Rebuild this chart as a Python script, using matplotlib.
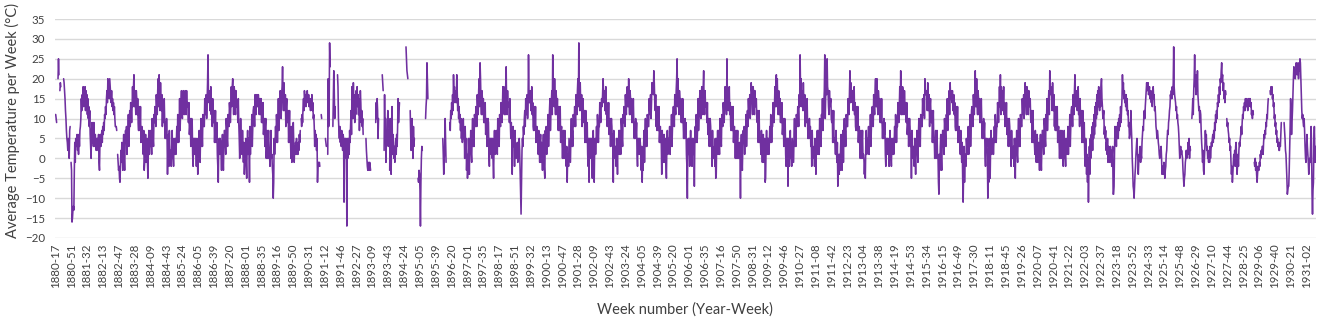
import numpy as np
import matplotlib
matplotlib.use("Agg")
import matplotlib.pyplot as plt

NA = None

# Weekly average temperatures (deg C), one row per (seasonal) year
temps_1880s = [
    # 1880 (from week 17)
    11, 11, 10, 9, NA, NA, 20, 25, 21, NA, 17, 19, 18, NA, NA, NA, NA, NA, 20, 19, 17, 15, 12, 10, 7, 5, 4, 2, 5, 3, 0, 7, 8, NA, -1, -3, -16,
    # 1881
    -15, -13, -12, -13, -3, 4, -1, 5, 3, 4, 6, 2, 5, 1, 6, 3, 7, 8, 10, 15, 12, 16, 14, 18, 13, 17, 15,
    18, 12, 17, 14, 16, 11, 15, 10, 13, 8, 12, 6, 3, 0, 7, 9, 4, 8, 3, 9, 5, 3, 6, 4, 2, 5,
    # 1882
    3, 5, 2, 6, -1, -3, 4, 6, 3, 5, 7, 4, 8, 6, 9, 7, 11, 10, 13, 11, 15, 17, 14, 20, 16, 19, 15,
    20, 18, 16, 14, 17, 13, 15, 12, 14, 11, 13, 10, 8, 8, 8, 7, NA, 1, -1, -3, -2, -5, -6, -2, 2, -1,
    # 1883
    4, 1, -3, 3, 6, 0, -3, 3, 7, 4, 8, 1, 7, 5, 11, 3, 8, 12, 8, 14, 12, 9, 13, 18, 13, 18, 21,
    13, 17, 14, 11, 17, 15, 11, 15, 9, 7, 13, 11, 7, 13, 4, 7, 8, 4, 4, 1, 7, -3, -1, 4, 6, -1,
    # 1884
    0, 5, -1, -5, 3, 7, 1, 5, 3, 7, 4, 1, 10, 8, 5, 3, 11, 9, 13, 12, 8, 16, 13, 11, 17, 20, 13,
    21, 16, 12, 19, 14, 12, 16, 8, 13, 14, 9, 15, 9, 5, 9, 5, 10, 6, -4, 3, 6, -2, 7, 2, 0, 2,
    # 1885
    -2, 3, 7, 0, 1, -2, 5, 3, 1, 5, 1, 4, 8, 4, 11, 8, 4, 8, 15, 7, 11, 14, 17, 11, 10, 16, 17,
    16, 11, 16, 17, 13, 11, 17, 13, 14, 13, 9, 14, 6, 8, 10, 3, 8, 10, 9, 1, -2, 5, 3, 5, 1, 5,
    # 1886
    3, -2, 5, 2, -4, 5, 2, 7, 1, -1, 6, 10, 3, 7, 3, 11, 10, 8, 8, 15, 12, 11, 16, 10, 14, 19, 26,
    15, 14, 17, 12, 14, 18, 11, 14, 8, 15, 10, 9, 12, 4, 8, 12, 4, 5, 9, 1, -2, -6, 3, 5, 1, 5,
    # 1887
    4, 1, -3, 3, 6, 0, -3, 3, 7, 7, 4, 1, 10, 8, 5, 3, 11, 9, 8, 14, 12, 9, 13, 18, 13, 18, 20,
    16, 11, 18, 17, 13, 11, 17, 13, 14, 14, 9, 15, 9, 5, 0, 5, 10, 6, 4, 1, 7, 3, -1, 4, -4, -1,
    # 1888
    0, 5, -1, -5, 3, 7, 1, 5, 3, -6, 8, 1, 7, 5, 11, 3, 8, 12, 13, 12, 8, 16, 13, 11, 15, 16, 13,
    13, 16, 14, 11, 15, 15, 11, 15, 9, 13, 9, 14, 6, 8, 10, 3, 8, 10, 0, 4, 7, 0, 4, 7, 0, 1,
    # 1889
    -2, 3, 7, 0, 1, -2, -4, -10, -6, 5, 1, 4, 8, 4, 11, 8, 4, 8, 15, 7, 11, 14, 17, 11, 10, 16, 18,
    23, 16, 12, 19, 14, 12, 16, 8, 13, 15, 10, 9, 12, 4, 8, 12, 4, 5, 0, 8, -1, 3, 2, 9, 4, -1,
]

temps_1890s = [
    # 1890
    3, 1, 4, 2, 5, 1, 3, 1, 4, 2, 6, 4, 7, NA, 10, 8, 11, 9, 13, 15, 12, 17, 15, 16, 13, 16, 14,
    17, 15, 14, 16, 13, 15, 14, 12, 15, 13, 16, 12, 14, 10, 11, 8, 3, 7, 4, 6, 2, 5, -6, -2, -1, -2,
    # 1891
    -1, -2, NA, NA, 11, 10, NA, NA, NA, NA, NA, NA, NA, 5, 4, 3, NA, NA, 1, 20, 8, 12, 29, 23, NA, NA, NA,
    NA, NA, 8, 15, 22, 17, 10, 13, NA, NA, NA, NA, 21, 18, 10, 7, 5, 8, 4, 6, 3, 7, 5, 2, 6, 5,
    # 1892
    -11, 2, 5, 0, 5, 4, -17, 5, 0, 2, 5, 1, 7, 4, 8, 12, 6, 18, 15, 10, 19, 13, 15, 9, 16, 11, 17,
    15, 18, 13, 16, 11, 15, 7, 12, 17, 14, 9, 12, 8, 10, 6, NA, NA, NA, NA, NA, 5, 2, 0, -2, -3, -1,
    # 1893
    -2, -3, -1, -2, -3, NA, NA, NA, NA, NA, NA, NA, NA, NA, NA, 9, 14, 10, 15, 12, 5, 10, NA, NA, NA, NA, NA,
    NA, NA, 21, 19, 17, NA, 2, 16, 5, 10, -1, 6, 4, 8, 12, 3, 7, NA, -3, 10, 2, -4, 5, 13, 1, 6,
    # 1894
    4, 0, 3, -1, 2, 5, 1, 6, 3, 8, 15, 9, 12, 14, NA, NA, NA, NA, NA, NA, NA, NA, NA, NA, NA, NA, NA,
    28, 25, 22, 21, 20, NA, NA, NA, NA, 12, 6, 2, 7, 10, 4, 0, 8, 3, 5, NA, NA, NA, NA, NA, NA, NA,
    # 1895
    -5, -6, -3, -4, -8, -17, -6, 0, 3, 2, NA, NA, NA, NA, NA, NA, 10, 13, 15, 24, 19, 15, NA, NA, NA, NA, NA,
    NA, NA, NA, NA, NA, NA, NA, NA, NA, NA, NA, NA, NA, NA, NA, NA, NA, NA, NA, NA, NA, NA, NA, NA, NA, NA,
    # 1896
    5, 1, -4, 0, 3, 10, 4, -1, NA, NA, NA, NA, NA, NA, NA, 9, 7, 12, 10, 14, 11, 16, 12, 21, 16, 18, 14,
    17, 15, 14, 21, 16, 12, 15, 10, 13, 9, 11, 7, 10, 5, 8, 4, 6, 10, 5, 7, 0, 8, 3, 5, -3, 1,
    # 1897
    -5, -2, 5, 2, -4, 5, 2, 7, 1, -1, 6, 10, 3, 7, 3, 11, 10, 8, 13, 12, 8, 16, 13, 11, 17, 20, 13,
    24, 20, 14, 11, 17, 15, 11, 15, 9, 13, 9, 14, 6, 8, 10, 3, 8, 10, 9, 1, -2, 5, 3, 5, 1, 5,
    # 1898
    0, 5, -1, -5, 3, 7, 1, 5, 3, 7, 4, 1, 10, 8, 5, 3, 11, 9, 8, 14, 12, 9, 13, 18, 13, 18, 11,
    16, 11, 18, 23, 13, 11, 17, 13, 14, 14, 9, 15, 9, 5, 9, 5, -4, 6, 8, 3, 6, -2, 7, 2, 0, 2,
    # 1899
    1, 4, -1, 3, 0, 5, 2, -3, -9, -14, -6, 2, 5, 3, 8, 6, 10, 12, 8, 15, 12, 11, 16, 10, 14, 26, 17,
    14, 14, 17, 12, 14, 18, 11, 14, 8, 7, 13, 11, 7, 13, 4, 7, 8, 4, 4, 1, 7, 3, -1, 4, 6, -1,
]

temps_1900s = [
    # 1900
    4, 1, -3, 3, 6, 0, -3, -5, 7, 4, 8, 1, 7, 5, 11, 3, 8, 12, 15, 7, 11, 14, 17, 11, 26, 16, 18,
    13, 20, 14, 11, 17, 15, 11, 15, 9, 7, 13, 11, 7, 13, 4, 7, 8, 4, 0, 4, 7, 0, 4, 7, 0, 1,
    # 1901
    -2, 3, -6, 0, 1, -2, 5, 3, 1, -1, 6, 10, 3, 7, 3, 11, 10, 8, 13, 12, 8, 16, 13, 11, 17, 20, 13,
    29, 16, 12, 19, 14, 12, 16, 8, 13, 15, 10, 9, 12, 4, 8, 12, 4, 5, 9, 1, -2, 5, -6, 5, 1, 5,
    # 1902
    0, 5, -1, -5, 3, 7, 1, -6, 3, 5, 1, 4, 8, 4, 11, 8, 4, 8, 8, 14, 12, 9, 13, 15, 13, 16, 20,
    17, 14, 17, 12, 14, 18, 11, 14, 8, 13, 9, 14, 6, 8, 10, 3, 8, 10, 8, 3, 6, -6, 7, 2, 0, 2,
    # 1903
    3, -2, 5, 2, -4, 5, 2, 7, 1, 7, 4, 1, 10, 8, 5, 3, 11, 9, 13, 12, 8, 16, 13, 11, 17, 18, 13,
    13, 20, 14, 11, 17, 15, 11, 15, 9, 14, 9, 15, 9, 5, 9, 5, 10, 6, 9, 1, -2, 5, 3, 5, 1, 5,
    # 1904
    4, 1, -3, 3, -6, 0, -3, 3, 7, -1, 6, 10, 3, 7, 3, 11, 10, 8, 8, 15, 12, 11, 16, 10, 14, 19, 17,
    17, 16, 22, 19, 14, 12, 16, 8, 13, 7, 13, 11, 7, 13, 4, 7, 8, 4, 4, -4, 7, 3, -1, 4, 6, -1,
    # 1905
    0, 5, -1, -5, 3, 7, 1, 5, 3, 4, 8, 1, 7, 5, 11, 3, 8, 12, 13, 12, 8, 16, 13, 11, 17, 20, 25,
    13, 20, 14, 11, 17, 15, 11, 15, 9, 14, 9, 15, 9, 5, 9, 5, 10, 6, 9, 1, -2, -10, 3, 5, 1, 5,
    # 1906
    -2, 3, 7, 0, 1, -2, 5, 3, 1, 5, -7, 4, 8, 4, 11, 8, 4, 8, 15, 7, 11, 14, 17, 11, 10, 16, 18,
    16, 11, 18, 22, 13, 11, 17, 13, 14, 13, 9, 14, 6, 8, 10, 3, 8, 10, 8, 3, 6, -2, 7, 2, 0, 2,
    # 1907
    3, -2, 5, -5, -4, 5, 2, 7, 1, 7, 4, 1, 10, 8, 5, 3, 11, 9, 8, 14, 12, 9, 13, 18, 13, 18, 11,
    25, 14, 17, 12, 14, 18, 11, 14, 8, 7, 13, 11, 7, 13, 4, 7, 8, 4, 0, 4, 7, 0, 4, 7, 0, 1, 0,
    # 1908
    4, 1, -10, 3, 6, 0, -3, 3, 7, 4, 8, 1, 7, 5, 11, 3, 8, 12, 8, 15, 12, 11, 16, 10, 14, 19, 17,
    16, 11, 18, 17, 13, 11, 17, 13, 14, 15, 10, 9, 12, 4, 8, 12, 4, 5, 4, 1, 7, 3, -1, 4, 6, -1,
    # 1909
    0, 5, -6, -5, 3, 7, 1, 5, 3, 5, 1, 4, 8, 4, 11, 8, 4, 8, 8, 14, 12, 9, 13, 18, 13, 18, 21,
    13, 20, 14, 11, 17, 15, 11, 15, 9, 13, 9, 14, 6, 8, 10, 3, 8, 10, 9, 1, -2, 5, 3, 5, -7, 5, 2,
]

temps_1910s = [
    # 1910
    -2, 3, 7, 0, 1, -2, 5, 3, 1, -1, 6, 10, 3, 7, 3, 11, 10, 8, 13, 12, 8, 16, 13, 26, 17, 20, 13,
    17, 16, 12, 19, 14, 12, 16, 8, 13, 14, 9, 15, 9, 5, 9, 5, 10, 6, 8, 3, 6, -2, 7, 2, 0, 2,
    # 1911
    3, -2, 5, 2, -4, 5, 2, 7, 1, 7, 4, 1, 10, 8, 5, 3, 11, 9, 15, 7, 11, 14, 17, 26, 10, 16, 18,
    16, 25, 18, 17, 13, 11, 17, 13, 14, 15, 10, 9, 12, 4, 8, 12, 4, 5, 4, 1, 7, 3, -1, 4, -7, -1, 1,
    # 1912
    -4, 1, -3, 3, 6, 0, -3, 3, 7, -1, 6, 10, 3, 7, 3, 11, 10, 8, 8, 15, 12, 11, 16, 22, 14, 19, 17,
    17, 14, 17, 12, 14, 18, 11, 14, 8, 7, 13, 11, 7, 13, 4, 7, 8, 4, 0, 4, 7, 0, 4, 7, 0, 1,
    # 1913
    0, -4, -1, -5, 3, 7, 1, 5, 3, 4, 8, 1, 7, 5, 11, 3, 8, 12, 13, 12, 8, 16, 13, 11, 17, 20, 13,
    13, 20, 14, 11, 17, 15, 11, 15, 9, 14, 9, 15, 9, 5, 9, 5, 10, 6, 9, 1, -2, 5, 3, 5, 1, 5, 3,
    # 1914
    -2, 3, 7, 0, 1, -2, 5, 3, 1, 5, 1, 4, 8, 4, 11, 8, 4, 8, 8, 14, 12, 9, 13, 18, 13, 22, 11,
    16, 11, 18, 17, 13, 11, 17, 13, 14, 13, 9, 14, 6, 8, 10, 3, 8, 10, 8, 3, 6, -5, 7, 2, 0, 2,
    # 1915
    3, -2, 5, 2, -4, 5, 2, 7, 1, -1, 6, 10, 3, 7, 3, 11, 10, 8, 8, 15, 12, 11, 16, 10, 20, 16, 17,
    17, 16, 12, 19, 14, 12, 16, 8, 13, 15, 10, 9, 12, 4, 8, 12, 4, 5, 0, 4, 7, 0, 4, 7, 0, 1, -6,
    # 1916
    -9, 1, -3, 3, 6, 0, -3, 3, 7, 7, 4, 1, 10, 8, 5, 3, 11, 9, 15, 7, 11, 14, 17, 11, 19, 16, 17,
    15, 14, 17, 12, 14, 16, 11, 14, 8, 7, 13, 11, 7, 13, 4, 7, 8, 4, 4, 1, 7, 3, -1, 4, -5, -11,
    # 1917
    -4, 3, -6, 0, 1, -2, 5, 3, 1, 4, 8, 1, 7, 5, 11, 3, 8, 12, 13, 12, 8, 16, 13, 11, 17, 22, 13,
    13, 20, 14, 11, 17, 15, 11, 15, 9, 14, 9, 15, 9, 5, 9, 5, 10, 6, 9, 1, -2, 5, 3, 5, 1, -10, -3,
    # 1918
    -6, 5, -1, -5, 3, 7, 1, 5, 3, 5, 1, 4, 8, 4, 11, 8, 4, 8, 8, 14, 12, 9, 13, 18, 13, 21, 11,
    18, 14, 17, 12, 14, 18, 11, 14, 8, 13, 9, 14, 6, 8, 10, 3, 8, 10, 8, 3, 6, -2, 7, 2, 0, 2,
    # 1919
    3, -2, 5, 2, -5, 5, 2, 7, 1, -1, 6, 10, 3, 7, 3, 11, 10, 8, 8, 15, 12, 11, 16, 10, 14, 19, 17,
    16, 11, 18, 17, 13, 11, 17, 13, 14, 15, 10, 9, 12, 4, 8, 12, 4, 5, 4, 1, 7, 3, -1, 4, 6, -1, 2,
]

temps_1920s = [
    # 1920
    4, 1, -3, 3, 6, 0, -3, 3, 7, 7, 4, 1, 10, 8, 5, 3, 11, 9, 15, 7, 11, 14, 17, 11, 22, 16, 18,
    17, 16, 12, 19, 14, 12, 16, 8, 13, 7, 13, 11, 7, 13, 4, 7, 8, 4, 0, 4, 7, 0, 4, 7, 0, 1,
    # 1921
    -2, 3, 7, 0, 1, -2, 5, 3, 1, 4, 8, 1, 7, 5, 11, 3, 8, 12, 13, 12, 8, 16, 13, 11, 17, 21, 13,
    17, 14, 17, 12, 14, 18, 11, 14, 8, 15, 10, 9, 12, 4, 8, 12, 4, 5, 9, 1, -2, 5, 3, -4, 1, -6, 0,
    # 1922
    -11, -3, 3, -4, 5, 0, 6, 2, 8, 2, 9, 5, 11, 6, 13, 8, 14, 10, 16, 11, 17, 13, 18, 14, 12, 17, 13,
    18, 20, 15, 13, 10, 11, 12, 6, 8, 5, 7, 2, 4, 1, 5, -1, 3, 0, 2, -1, 3, 0, 2, -2, 1, 3, -9,
    # 1923
    -9, -7, 2, 8, 4, 7, 3, 8, 5, 9, 5, 10, 7, 11, 8, 13, 9, 12, 15, 21, 17, 19, 15, 17, 14, 16, 13,
    16, 12, 15, 11, 12, 8, 9, 5, 6, 7, 12, 8, 5, 0, -3, -7, -8, -10, -7, -4, -2, 1, 3, 5, 2, 0,
    # 1924
    -4, -1, 1, 0, 3, -1, 1, 0, 4, 6, 8, 7, 11, 12, 10, 13, 15, 17, 19, 17, 18, 19, 16, 17, 18, 15, 16,
    17, 14, 16, 13, 17, 18, 15, 16, 12, 13, 11, 8, 7, 5, 7, 6, 4, 3, 1, 0, 2, 1, 3, 0, -4, -2,
    # 1925
    -3, -4, -1, -3, -5, -3, -2, 1, 2, 5, 7, 6, 9, 10, 12, 13, 16, 15, 17, 15, 18, 16, 19, 28, 18, 16, 15,
    14, 12, 13, 10, 11, 9, 8, 6, 3, 0, 2, 3, 1, 2, 1, 0, -3, -5, -7, -5, -4, -1, 0, 2, 0, 2, 1,
    # 1926
    4, 1, 5, 0, 3, 2, NA, NA, 10, 12, 15, 11, 17, 20, 26, 18, 21, 16, 19, 17, 22, 16, 14, 12, 13, 9, 12,
    11, 7, 4, 2, -1, 2, -3, -4, 0, 3, 7, 4, 6, 2, 3, 0, 1, -1, 2, -1, 3, 0, 2, 4, 3, 5,
    # 1927
    6, 4, 7, 5, 9, 7, 11, 9, 12, 10, 14, 13, 16, 14, 18, 16, 20, 19, 22, 24, 20, 21, 17, 19, 15, 16, 14,
    17, 16, NA, 10, 8, 9, 7, 6, 4, 5, 2, 3, -1, -4, -2, -6, -4, -1, 1, -1, 2, -2, 3, 4, 0, -4, -2,
    # 1928
    1, -2, 2, 4, 3, 5, 6, 8, 6, 9, 11, 10, 13, 12, 14, 12, 15, 13, 15, 13, 14, 12, 15, 13, 15, 14, 15,
    13, 14, 11, 12, 10, 12, 11, NA, -1, -2, 0, -3, -1, -4, -6, -4, -2, -3, -3, -1, -2, 1, 0, 2, 1, 3,
    # 1929
    3, 1, 4, 6, 5, 7, 6, 9, 8, 11, 10, 13, 15, NA, NA, NA, 17, 16, 18, 17, 18, 15, 16, 13, 14, 10, 11,
    8, 9, 6, 7, 4, 5, 3, 4, 2, 2, 4, 3, 6, 9, NA, NA, NA, NA, NA, 9, 7, 5, 2, 1, -2, -5,
]

temps_1930s = [
    # 1930
    -9, -8, -7, -7, -3, 2, 8, 15, 10, 6, 9, 12, 16, 20, 23, 21, 22, 20, 22, 24, 23, 21, 22, 24, 20, 23, 22,
    25, 24, 20, 16, 12, 10, 11, 9, 8, 10, 7, 3, 0, -1, 2, 6, 3, 1, -1, -4, -2, 0, -1, 4, 8, 3,
    # 1931
    -9, -14, -8, -6, 4, 8, 2, -1, 3,
]

tick_labels = [
    "1880-17", "1880-51", "1881-32", "1882-13", "1882-47", "1883-28", "1884-09", "1884-43",
    "1885-24", "1886-05", "1886-39", "1887-20", "1888-01", "1888-35", "1889-16", "1889-50",
    "1890-31", "1891-12", "1891-46", "1892-27", "1893-09", "1893-43", "1894-24", "1895-05",
    "1895-39", "1896-20", "1897-01", "1897-35", "1898-17", "1898-51", "1899-32", "1900-13",
    "1900-47", "1901-28", "1902-09", "1902-43", "1903-24", "1904-05", "1904-39", "1905-20",
    "1906-01", "1906-35", "1907-16", "1907-50", "1908-31", "1909-12", "1909-46", "1910-27",
    "1911-08", "1911-42", "1912-23", "1913-04", "1913-38", "1914-19", "1914-53", "1915-34",
    "1916-15", "1916-49", "1917-30", "1918-11", "1918-45", "1919-26", "1920-07", "1920-41",
    "1921-22", "1922-03", "1922-37", "1923-18", "1923-52", "1924-33", "1925-14", "1925-48",
    "1926-29", "1927-10", "1927-44", "1928-25", "1929-06", "1929-40", "1930-21", "1931-02",
]
TICK_STEP = 34
y_ticks = list(range(-20, 36, 5))

values = np.array(temps_1880s + temps_1890s + temps_1900s + temps_1910s
                  + temps_1920s + temps_1930s, dtype=float)
x = np.arange(len(values))

plt.rcParams['font.family'] = ['Lato', 'DejaVu Sans']
TEXT = '#404040'

W, H = 1325, 332
fig = plt.figure(figsize=(W / 100, H / 100), dpi=100)
ax = fig.add_axes([55 / W, 1 - 238 / H, (1316 - 55) / W, (238 - 19) / H])

ax.plot(x, values, color='#7030A0', lw=1.15, solid_joinstyle='round',
        solid_capstyle='round')

ax.set_xlim(-0.5, len(values) - 0.5)
ax.set_ylim(-20, 35)
ax.set_yticks(y_ticks)
ax.set_xticks(np.arange(len(tick_labels)) * TICK_STEP)
ax.set_xticklabels(tick_labels, rotation=90)
ax.tick_params(axis='x', length=0, pad=4, labelsize=8.3, labelcolor=TEXT)
ax.tick_params(axis='y', length=0, pad=7, labelsize=8.3, labelcolor=TEXT)
ax.grid(axis='y', color='#d9d9d9', lw=1.0)
ax.set_axisbelow(True)
for s in ax.spines.values():
    s.set_visible(False)

fig.text(12 / W, 1 - 121 / H, 'Average Temperature per Week (°C)', rotation=90,
         ha='center', va='center', fontsize=10.5, color=TEXT)
fig.text(685 / W, 1 - 310 / H, 'Week number (Year-Week)', ha='center', va='center',
         fontsize=10.5, color=TEXT)

fig.savefig('out.png', dpi=100)
